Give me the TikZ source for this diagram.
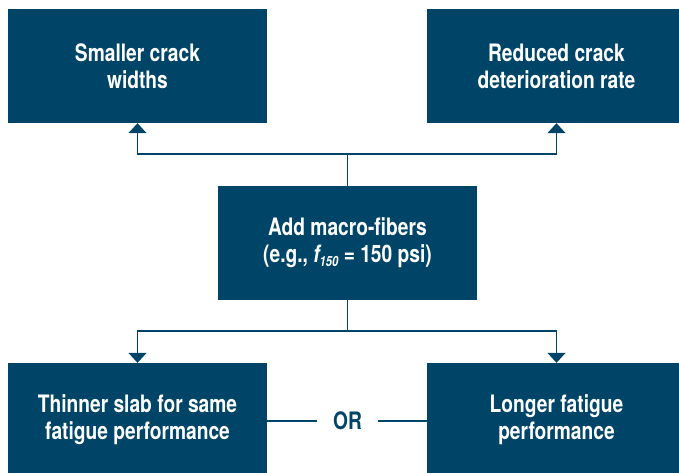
\documentclass[tikz,border=0pt]{standalone}
\usepackage{fontspec}
\setmainfont{TeX Gyre Heros}[FakeStretch=0.8]
\usetikzlibrary{arrows.meta}
\definecolor{navy}{RGB}{0,69,104}
\tikzset{
  box/.style={fill=navy, minimum width=259pt, minimum height=114pt, inner sep=0pt},
  boxtext/.style={text=white, font=\fontsize{24}{27}\selectfont\bfseries, align=center},
  link/.style={draw=navy, line width=1.5pt},
  tip/.style={-{Triangle[width=18pt,length=10pt]}}
}
\begin{document}
\begin{tikzpicture}[x=1pt,y=1pt]
  \useasboundingbox (0,0) rectangle (679,-472);
  \clip (0,0) rectangle (679,-472);
  % boxes
  \node[box] (tl) at (137.5,-66) {};
  \node[box] (tr) at (556.5,-66) {};
  \node[box] (mid) at (347.5,-243) {};
  \node[box] (bl) at (137.5,-420) {};
  \node[box] (br) at (556.5,-420) {};
  % box texts
  \node[boxtext] at (tl.center) {Smaller crack\\widths};
  \node[boxtext] at (tr.center) {Reduced crack\\deterioration rate};
  \node[boxtext] at (mid.center) {Add macro-fibers\\(e.g., {\itshape f\raisebox{-0.3ex}{\fontsize{14}{14}\selectfont 150}} = 150 psi)};
  \node[boxtext] at (bl.center) {Thinner slab for same\\fatigue performance};
  \node[boxtext] at (br.center) {Longer fatigue\\performance};
  \node[text=navy, font=\fontsize{24}{25}\selectfont\bfseries] (or) at (347.5,-421) {OR};
  % junctions
  \coordinate (up) at (347.5,-154);
  \coordinate (down) at (347.5,-331);
  % upward connectors
  \draw[link] (mid.north) -- (up);
  \draw[link, tip] (up) -| (tl.south);
  \draw[link, tip] (up) -| (tr.south);
  % downward connectors
  \draw[link] (mid.south) -- (down);
  \draw[link, tip] (down) -| (bl.north);
  \draw[link, tip] (down) -| (br.north);
  % OR links
  \coordinate (orl) at (317,-421);
  \coordinate (orr) at (378,-421);
  \draw[link] (bl.east |- orl) -- (orl);
  \draw[link] (orr) -- (br.west |- orr);
\end{tikzpicture}
\end{document}
